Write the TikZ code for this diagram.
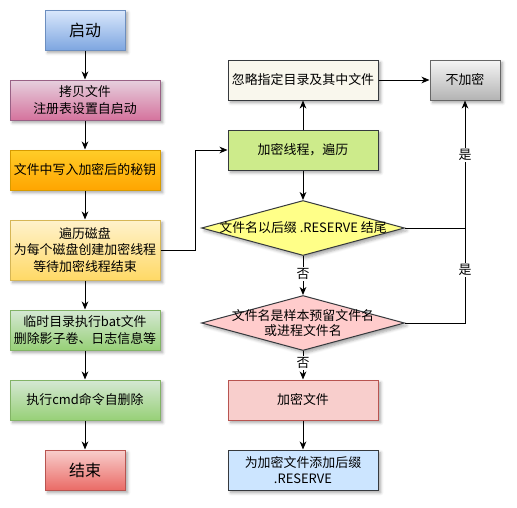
\documentclass[tikz,border=0pt]{standalone}
\usepackage{fontspec}
\setmainfont{Noto Sans CJK SC}
\usetikzlibrary{shapes.geometric,arrows.meta,shadows.blur}
\definecolor{bA}{HTML}{DAE8FC}\definecolor{bB}{HTML}{7EA6E0}\definecolor{bS}{HTML}{6C8EBF}
\definecolor{pA}{HTML}{E6D0DE}\definecolor{pB}{HTML}{D5739D}\definecolor{pS}{HTML}{996185}
\definecolor{oA}{HTML}{FFCD28}\definecolor{oB}{HTML}{FFA500}\definecolor{oS}{HTML}{D79B00}
\definecolor{yA}{HTML}{FFF2CC}\definecolor{yB}{HTML}{FFD966}\definecolor{yS}{HTML}{D6B656}
\definecolor{gA}{HTML}{D5E8D4}\definecolor{gB}{HTML}{97D077}\definecolor{gS}{HTML}{82B366}
\definecolor{rA}{HTML}{F8CECC}\definecolor{rB}{HTML}{EA6B66}\definecolor{rS}{HTML}{B85450}
\definecolor{kA}{HTML}{F5F5F5}\definecolor{kB}{HTML}{B3B3B3}\definecolor{kS}{HTML}{666666}
\definecolor{dS}{HTML}{36393D}
\definecolor{ignF}{HTML}{F9F7ED}
\definecolor{thrF}{HTML}{CDEB8B}
\definecolor{d1F}{HTML}{FFFF88}
\definecolor{d2F}{HTML}{FFCCCC}
\definecolor{sufF}{HTML}{CCE5FF}
\tikzset{
  box/.style={draw, rectangle, line width=0.75pt, minimum width=112.5pt, minimum height=30pt,
    align=center, inner sep=1pt, font=\fontsize{9.7}{12.5}\selectfont,
    blur shadow={shadow xshift=2pt, shadow yshift=-2pt, shadow blur steps=4, shadow opacity=35}},
  big/.style={box, minimum width=60pt, font=\fontsize{12}{14}\selectfont},
  grad/.style 2 args={top color=#1, bottom color=#2},
  dia/.style={draw=dS, diamond, line width=0.75pt, minimum width=152.25pt, minimum height=41.25pt,
    inner sep=0pt, blur shadow={shadow xshift=2pt, shadow yshift=-2pt, shadow blur steps=4, shadow opacity=35}},
  dtext/.style={align=center, font=\fontsize{9.7}{11.3}\selectfont, inner sep=0pt},
  arr/.style={-{Stealth[length=6pt,width=5pt,inset=1.8pt]}, line width=0.75pt},
  ln/.style={line width=0.75pt},
  lab/.style={fill=white, inner sep=1pt, font=\fontsize{9.7}{11}\selectfont}
}
\begin{document}
\begin{tikzpicture}[x=0.75pt,y=-0.75pt]
\useasboundingbox (0,0) rectangle (517,507);
% left column
\node[big, draw=bS, grad={bA}{bB}] (start) at (85,30) {启动};
\node[box, draw=pS, grad={pA}{pB}] (copy) at (85,100) {拷贝文件\\注册表设置自启动};
\node[box, draw=oS, grad={oA}{oB}] (write) at (85,170) {文件中写入加密后的秘钥};
\node[box, draw=yS, grad={yA}{yB}, minimum height=45pt] (trav) at (85,250) {遍历磁盘\\为每个磁盘创建加密线程\\等待加密线程结束};
\node[box, draw=gS, grad={gA}{gB}] (tmp) at (85,330) {临时目录执行bat文件\\删除影子卷、日志信息等};
\node[box, draw=gS, grad={gA}{gB}] (cmd) at (85,400) {执行cmd命令自删除};
\node[big, draw=rS, grad={rA}{rB}] (end) at (85,470) {结束};
% right column
\node[box, draw=dS, fill=ignF] (ign) at (303,80) {忽略指定目录及其中文件};
\node[box, draw=kS, grad={kA}{kB}, minimum width=52.5pt] (noenc) at (465,80) {不加密};
\node[box, draw=dS, fill=thrF] (thr) at (303,150) {加密线程，遍历};
\node[dia, fill=d1F] (d1) at (303,228) {};
\node[dtext] (d1t) at (d1.center) {文件名以后缀 .RESERVE 结尾};
\node[dia, fill=d2F] (d2) at (303,323) {};
\node[dtext] (d2t) at (d2.center) {文件名是样本预留文件名\\或进程文件名};
\node[box, draw=rS, fill=rA] (enc) at (303,400) {加密文件};
\node[box, draw=dS, fill=sufF] (suf) at (303,470) {为加密文件添加后缀\\.RESERVE};
% connectors left
\draw[arr] (start) -- (copy);
\draw[arr] (copy) -- (write);
\draw[arr] (write) -- (trav);
\draw[arr] (trav) -- (tmp);
\draw[arr] (tmp) -- (cmd);
\draw[arr] (cmd) -- (end);
% to thread
\coordinate (k1) at (195,250);
\draw[arr] (trav.east) -- (k1) |- (thr.west);
\draw[arr] (thr) -- (ign);
\draw[arr] (ign) -- (noenc);
\coordinate (j1) at (465,228);
\draw[arr] (d1.east) -- (j1) -- (noenc.south);
\node[lab] (y1) at (465,155) {是};
\draw[ln] (d2.east) -| (j1);
\node[lab] (y2) at (465,270) {是};
\draw[arr] (thr) -- (d1.north);
\draw[arr] (d1.south) -- (d2.north);
\node[lab] (n1) at (303,274) {否};
\draw[arr] (d2.south) -- (enc.north);
\node[lab] (n2) at (303,363) {否};
\draw[arr] (enc) -- (suf);
\end{tikzpicture}
\end{document}
